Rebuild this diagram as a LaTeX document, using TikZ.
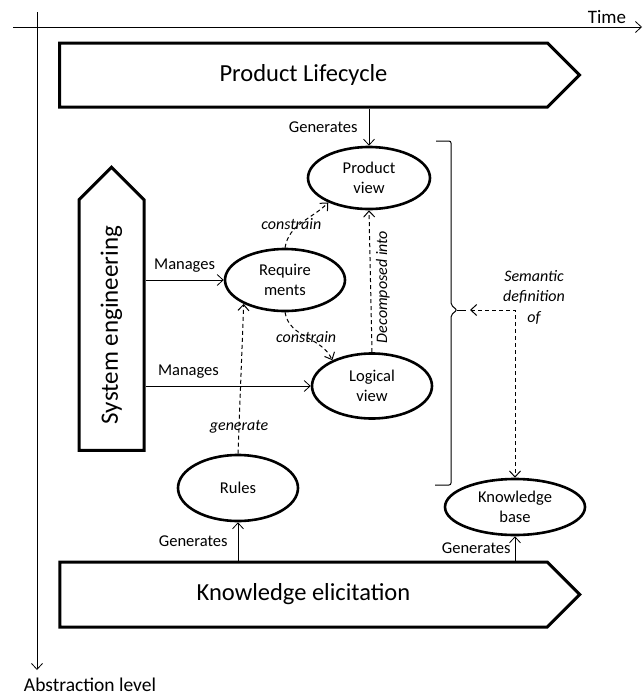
\documentclass[tikz,border=0pt]{standalone}
\usepackage{fontspec}
\setmainfont{Carlito}
\usetikzlibrary{shapes.geometric,shapes.symbols,arrows.meta}

\begin{document}
\begin{tikzpicture}[x=1pt,y=1pt,
    >={Straight Barb[length=6pt,width=11pt]},
    every node/.style={font=\fontsize{16.5}{19.5}\selectfont,inner sep=1pt},
    view/.style={ellipse,draw,line width=2.6pt,align=center,inner sep=0pt},
    phase/.style={signal,draw,line width=3pt,signal to=east,signal pointer angle=90,
      inner sep=0pt,font=\fontsize{24.5}{28}\selectfont},
    rel/.style={font=\itshape\fontsize{16}{20.5}\selectfont,align=center}]
  \useasboundingbox (0,0) rectangle (643,-697);
  % axes
  \coordinate (t0) at (13,-27);
  \coordinate (t1) at (642,-27);
  \coordinate (a0) at (37,-12);
  \coordinate (a1) at (37,-670);
  \node[font=\fontsize{19}{22}\selectfont] (time) at (607,-17) {Time};
  \node[font=\fontsize{19.5}{22}\selectfont] (abs) at (90,-685) {Abstraction level};
  \draw[->,line width=0.8pt] (t0) -- (t1);
  \draw[->,line width=0.8pt] (a0) -- (a1);
  % phases and views
  \draw
    (303.5,-75) node[phase,minimum width=520,minimum height=64] (plc){Product Lifecycle}
    (303.5,-594.5) node[phase,minimum width=520,minimum height=65] (ke){Knowledge elicitation}
    (111.5,-325) node[phase,rotate=90,minimum width=283,minimum height=65,
      font=\fontsize{25}{28}\selectfont] (se){System engineering}
    (369,-178) node[view,minimum width=122,minimum height=62] (pv){Product\\view}
    (285,-280) node[view,minimum width=120,minimum height=62] (req){Require\\ments}
    (372,-386) node[view,minimum width=120,minimum height=65] (lv){Logical\\view}
    (238,-488) node[view,minimum width=120,minimum height=66] (rules){Rules}
    (515,-507) node[view,minimum width=140,minimum height=56] (kb){Knowledge\\base};
  % bracket round the views
  \coordinate (sem) at (470,-310);
  \draw[line width=1pt,rounded corners=2pt] (436,-141) -- (451,-141) -- (451,-305)
    -- (457,-310) -- (451,-315) -- (451,-485) -- (435,-485);
  \draw[line width=1pt] (457,-310) -- (466,-310);
  \node[rel] (semlbl) at (534,-297) {Semantic\\definition\\of};
  \begin{scope}[->,line width=0.8pt]
    \draw (pv.north |- plc.south) -- node[left=10pt]{Generates} (pv.north);
    \draw (req.west -| se.south) -- node[above=6pt]{Manages} (req.west);
    \draw (lv.west -| se.south) -- node[above=6pt,pos=0.26]{Manages} (lv.west);
    \draw (rules.south |- ke.north) -- node[left=9pt]{Generates} (rules.south);
    \draw (kb.south |- ke.north) -- node[left=3pt]{Generates} (kb.south);
  \end{scope}
  \begin{scope}[->,dash pattern=on 4pt off 3pt,line width=1pt]
    \draw (req.north) to[out=80,in=225] node[rel,pos=0.45,xshift=-8pt]{constrain} (pv.211);
    \draw (req.south) to[out=-80,in=115] node[rel,pos=0.5]{constrain} (lv.147);
    \draw (lv.north) -- node[rel,rotate=90,anchor=north,inner sep=5pt,pos=0.46]{Decomposed into} (pv.south);
    \draw (rules.north) -- node[rel,pos=0.18]{generate} (req.210);
    \draw[<->] (sem) -| (kb.north);
  \end{scope}
\end{tikzpicture}
\end{document}
